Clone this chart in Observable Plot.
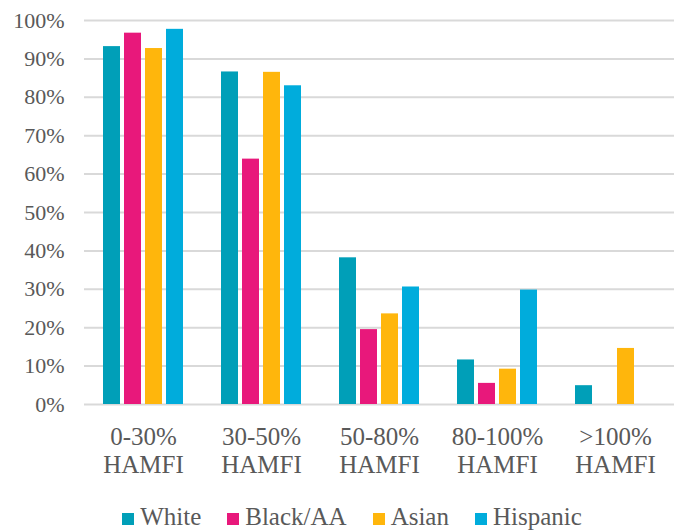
<!DOCTYPE html>
<html>
<head>
<meta charset="utf-8">
<script src="https://cdn.jsdelivr.net/npm/d3@7"></script>
<script src="https://cdn.jsdelivr.net/npm/@observablehq/plot@0.6"></script>
<style>
  html, body { margin: 0; padding: 0; background: #fff; }
  #chart { width: 674px; }
  .legend { display: flex; justify-content: center; gap: 26px; font-family: "Liberation Serif", serif; font-size: 25px; color: #595959; margin-top: 12px; line-height: 30px; padding-left: 30px; }
  .legend span.item { display: flex; align-items: center; }
  .legend span.sw { display: inline-block; width: 12px; height: 12px; margin-right: 6px; margin-top: 3px; }
</style>
</head>
<body>
<div id="chart"></div>
<script>
const categories = ["0-30% HAMFI", "30-50% HAMFI", "50-80% HAMFI", "80-100% HAMFI", ">100% HAMFI"];
const series = ["White", "Black/AA", "Asian", "Hispanic"];
const colors = ["#009FB8", "#E8187B", "#FFB60C", "#00ACDC"];
const white    = [93.2, 86.6, 38.2, 11.6, 4.9];
const blackAA  = [96.7, 63.9, 19.5, 5.5, null];
const asian    = [92.7, 86.5, 23.6, 9.2, 14.6];
const hispanic = [97.7, 83.0, 30.6, 29.8, null];
const yTicks = [0, 10, 20, 30, 40, 50, 60, 70, 80, 90, 100];

const valuesBySeries = [white, blackAA, asian, hispanic];
const data = [];
categories.forEach((c, i) => {
  series.forEach((s, j) => {
    const v = valuesBySeries[j][i];
    if (v != null) data.push({category: c, series: s, value: v});
  });
});

const plot = Plot.plot({
  width: 674,
  height: 490,
  marginTop: 20,
  marginLeft: 83,
  marginRight: 0,
  marginBottom: 86,
  style: {fontFamily: "Liberation Serif, serif", fontSize: "25px", color: "#595959", background: "#fff"},
  fx: {domain: categories, padding: 0, label: null},
  x: {domain: series, axis: null, paddingInner: 0.21, paddingOuter: 0.85},
  y: {domain: [0, 100], label: null},
  color: {domain: series, range: colors},
  marks: [
    Plot.gridY(yTicks, {stroke: "#d9d9d9", strokeWidth: 2, strokeOpacity: 1}),
    Plot.axisY(yTicks, {tickSize: 0, tickPadding: 20, fontSize: 22, tickFormat: d => d + "%", label: null, fill: "#595959"}),
    Plot.axisFx({anchor: "bottom", tickSize: 0, tickPadding: 21, fontSize: 25, lineHeight: 1.12, label: null, tickFormat: d => d.replace(" ", "\n"), fill: "#595959"}),
    Plot.barY(data, {fx: "category", x: "series", y: "value", fill: "series"})
  ]
});
document.getElementById("chart").appendChild(plot);

const legend = document.createElement("div");
legend.className = "legend";
series.forEach((s, i) => {
  const item = document.createElement("span");
  item.className = "item";
  const sw = document.createElement("span");
  sw.className = "sw";
  sw.style.background = colors[i];
  item.appendChild(sw);
  item.appendChild(document.createTextNode(s));
  legend.appendChild(item);
});
document.getElementById("chart").appendChild(legend);
</script>
</body>
</html>
